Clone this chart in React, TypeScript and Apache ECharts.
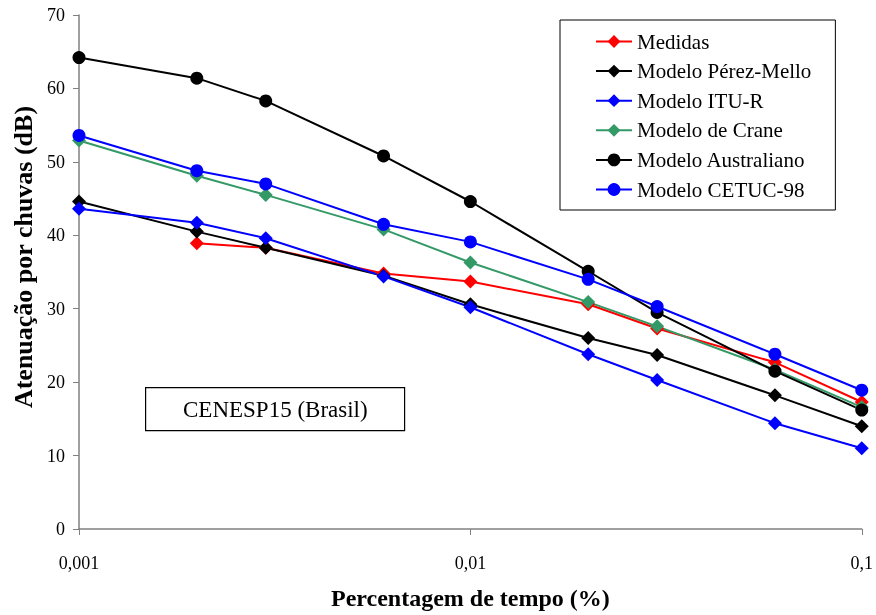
import React, { useEffect, useRef } from "react";
import * as echarts from "echarts";

// Percentage of time (%) — log scale
const timePercent = [0.001, 0.002, 0.003, 0.006, 0.01, 0.02, 0.03, 0.06, 0.1];

// Rain attenuation (dB) per series
const medidas = [null, 38.9, 38.3, 34.8, 33.7, 30.6, 27.3, 22.7, 17.3];
const perezMello = [44.6, 40.5, 38.3, 34.5, 30.6, 26.0, 23.7, 18.2, 14.0];
const ituR = [43.6, 41.7, 39.6, 34.4, 30.2, 23.8, 20.3, 14.4, 11.0];
const crane = [52.9, 48.1, 45.5, 40.8, 36.3, 30.9, 27.6, 21.7, 16.6];
const australiano = [64.2, 61.4, 58.3, 50.8, 44.6, 35.1, 29.5, 21.5, 16.2];
const cetuc98 = [53.6, 48.8, 47.0, 41.5, 39.1, 34.0, 30.3, 23.8, 18.9];

const xTickLabels: Record<string, string> = { "0.001": "0,001", "0.01": "0,01", "0.1": "0,1" };

const FONT = "Liberation Serif";

const pair = (vals: (number | null)[]) =>
  timePercent.map((x, i) => (vals[i] == null ? null : [x, vals[i]])).filter((p) => p !== null);

const seriesDefs = [
  { name: "Medidas", data: medidas, color: "#ff0000", symbol: "diamond" },
  { name: "Modelo Pérez-Mello", data: perezMello, color: "#000000", symbol: "diamond" },
  { name: "Modelo ITU-R", data: ituR, color: "#0000ff", symbol: "diamond" },
  { name: "Modelo de Crane", data: crane, color: "#339966", symbol: "diamond" },
  { name: "Modelo Australiano", data: australiano, color: "#000000", symbol: "circle" },
  { name: "Modelo CETUC-98", data: cetuc98, color: "#0000ff", symbol: "circle" },
];

export default function App() {
  const ref = useRef<HTMLDivElement>(null);

  useEffect(() => {
    if (!ref.current) return;
    const chart = echarts.init(ref.current, null, { renderer: "svg" });
    chart.setOption({
      animation: false,
      grid: { left: 79, right: 12, top: 15, bottom: 85 },
      xAxis: {
        type: "log",
        logBase: 10,
        min: 0.001,
        max: 0.1,
        name: "Percentagem de tempo (%)",
        nameLocation: "middle",
        nameGap: 57,
        nameTextStyle: { fontFamily: FONT, fontWeight: "bold", fontSize: 24, color: "#000" },
        axisLine: { lineStyle: { color: "#808080", width: 1.5 } },
        axisTick: { show: true, inside: false, length: 6, lineStyle: { color: "#808080" } },
        minorTick: { show: false },
        splitLine: { show: false },
        axisLabel: {
          margin: 25,
          fontFamily: FONT,
          fontSize: 18,
          color: "#000",
          formatter: (v: number) => xTickLabels[String(v)] ?? String(v).replace(".", ","),
        },
      },
      yAxis: {
        type: "value",
        min: 0,
        max: 70,
        interval: 10,
        name: "Atenuação por chuvas (dB)",
        nameLocation: "middle",
        nameGap: 41,
        nameTextStyle: {
          fontFamily: FONT,
          fontWeight: "bold",
          fontSize: 26,
          color: "#000",
          padding: [0, 0, 0, 30],
        },
        axisLine: { show: true, lineStyle: { color: "#808080", width: 1.5 } },
        axisTick: { show: true, inside: false, length: 6, lineStyle: { color: "#808080" } },
        splitLine: { show: false },
        axisLabel: { margin: 14, fontFamily: FONT, fontSize: 18, color: "#000" },
      },
      legend: {
        orient: "vertical",
        left: 560,
        top: 20,
        padding: [11, 24, 10, 35],
        itemGap: 8.6,
        itemWidth: 36,
        itemHeight: 16,
        borderColor: "#000",
        borderWidth: 1,
        textStyle: { fontFamily: FONT, fontSize: 21, color: "#000" },
        data: seriesDefs.map((s) => s.name),
      },
      graphic: [
        {
          type: "rect",
          left: 145,
          top: 387,
          shape: { width: 259, height: 43 },
          style: { fill: "#fff", stroke: "#000", lineWidth: 1.2 },
        },
        {
          type: "text",
          x: 183,
          y: 409,
          style: {
            text: "CENESP15 (Brasil)",
            fontFamily: FONT,
            fontSize: 23,
            fill: "#000",
            verticalAlign: "middle",
          },
        },
      ],
      series: seriesDefs.map((s) => ({
        name: s.name,
        type: "line",
        data: pair(s.data),
        symbol: s.symbol,
        symbolSize: s.symbol === "circle" ? 13 : 14,
        showAllSymbol: true,
        lineStyle: { color: s.color, width: 2 },
        itemStyle: { color: s.color },
      })),
    });
    return () => chart.dispose();
  }, []);

  return <div ref={ref} style={{ position: "fixed", left: 0, top: 0, width: 876, height: 615 }} />;
}
